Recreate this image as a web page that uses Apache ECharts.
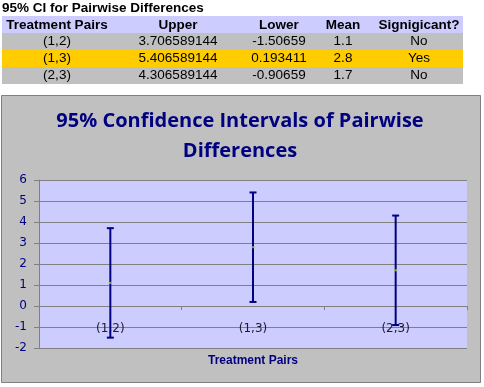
<!DOCTYPE html>
<html>
<head>
<meta charset="utf-8">
<script src="https://cdn.jsdelivr.net/npm/echarts@6/dist/echarts.min.js"></script>
<style>html,body{margin:0;padding:0;background:#fff;}#c{width:484px;height:387px;}</style>
</head>
<body>
<div id="c"></div>
<script>
var categories = ['(1,2)', '(1,3)', '(2,3)'];
var upper = [3.706589144, 5.406589144, 4.306589144];
var lower = [-1.50659, 0.193411, -0.90659];
var mean = [1.1, 2.8, 1.7];
var significant = ['No', 'Yes', 'No'];
var tableHeaders = ['Treatment Pairs', 'Upper', 'Lower', 'Mean', 'Signigicant?'];
var yMin = -2, yMax = 6, yStep = 1;

var chart = echarts.init(document.getElementById('c'), null, {renderer: 'canvas'});

var colX = [57, 178, 279, 343, 419];
var rowY = [41.5, 58.5, 75.5];
var rowFill = ['#c0c0c0', '#ffcc00', '#c0c0c0'];
var tf = '"Liberation Sans", Arial, sans-serif';

var graphics = [];
// chart box
graphics.push({type: 'rect', z: -10, shape: {x: 1.5, y: 95.5, width: 479, height: 287}, style: {fill: '#c0c0c0', stroke: '#808080', lineWidth: 1}});
// table title
graphics.push({type: 'text', x: 2, y: 8, style: {text: '95% CI for Pairwise Differences', font: 'bold 13.5px ' + tf, fill: '#000', textVerticalAlign: 'middle'}});
// header
graphics.push({type: 'rect', shape: {x: 2, y: 16, width: 461, height: 17}, style: {fill: '#ccccff'}});
tableHeaders.forEach(function (h, j) {
  graphics.push({type: 'text', x: colX[j], y: 25, style: {text: h, font: 'bold 13.5px ' + tf, fill: '#000', textAlign: 'center', textVerticalAlign: 'middle'}});
});
categories.forEach(function (c, i) {
  graphics.push({type: 'rect', shape: {x: 2, y: 33 + i * 17, width: 461, height: 17}, style: {fill: rowFill[i]}});
  var vals = [c, String(upper[i]), String(lower[i]), String(mean[i]), significant[i]];
  vals.forEach(function (v, j) {
    graphics.push({type: 'text', x: colX[j], y: rowY[i], style: {text: v, font: '13.5px ' + tf, fill: '#000', textAlign: 'center', textVerticalAlign: 'middle'}});
  });
});

var option = {
  backgroundColor: '#ffffff',
  animation: false,
  title: {
    text: '95% Confidence Intervals of Pairwise\nDifferences',
    left: 235, textAlign: 'center', top: 101,
    textStyle: {fontSize: 20, fontWeight: 'bold', color: '#000080', fontFamily: '"Open Sans", sans-serif', lineHeight: 30}
  },
  graphic: graphics,
  grid: {left: 39, top: 180, width: 428, height: 168, show: true, backgroundColor: '#ccccff', borderWidth: 0, containLabel: false, outerBoundsMode: 'none'},
  xAxis: {
    type: 'category', data: categories, boundaryGap: true,
    offset: -42,
    axisLine: {onZero: false, lineStyle: {color: '#808080', width: 1}},
    axisTick: {show: true, length: 4, lineStyle: {color: '#808080'}},
    axisLabel: {margin: 17, fontSize: 12, color: '#1a1a33', fontFamily: 'Tahoma, "DejaVu Sans", sans-serif'},
    name: 'Treatment Pairs', nameLocation: 'middle', nameGap: 49,
    nameTextStyle: {fontSize: 12, fontWeight: 'bold', color: '#000080', fontFamily: '"Liberation Sans", Arial, sans-serif'}
  },
  yAxis: {
    type: 'value', min: yMin, max: yMax, interval: yStep,
    axisLine: {show: true, lineStyle: {color: '#808080'}},
    axisTick: {show: true, length: 5, lineStyle: {color: '#808080'}},
    axisLabel: {margin: 12, fontSize: 12, color: '#000080', fontFamily: 'Tahoma, "DejaVu Sans", sans-serif'},
    splitLine: {show: true, lineStyle: {color: '#808080', width: 1}}
  },
  series: [
    {
      type: 'custom', name: 'CI',
      data: categories.map(function (c, i) { return [i, lower[i], upper[i]]; }),
      encode: {x: 0, y: [1, 2]},
      renderItem: function (params, api) {
        var i = api.value(0);
        var lo = api.coord([i, api.value(1)]);
        var hi = api.coord([i, api.value(2)]);
        var hw = 3.5;
        var st = {stroke: '#000080', lineWidth: 2};
        return {type: 'group', children: [
          {type: 'line', shape: {x1: lo[0], y1: lo[1], x2: hi[0], y2: hi[1]}, style: st},
          {type: 'line', shape: {x1: lo[0] - hw, y1: lo[1], x2: lo[0] + hw, y2: lo[1]}, style: st},
          {type: 'line', shape: {x1: hi[0] - hw, y1: hi[1], x2: hi[0] + hw, y2: hi[1]}, style: st}
        ]};
      },
      z: 2
    },
    {
      type: 'scatter', name: 'Mean', data: mean, symbol: 'rect', symbolSize: [3, 2],
      itemStyle: {color: '#99cc33'}, z: 3
    }
  ]
};
chart.setOption(option);
</script>
</body>
</html>
